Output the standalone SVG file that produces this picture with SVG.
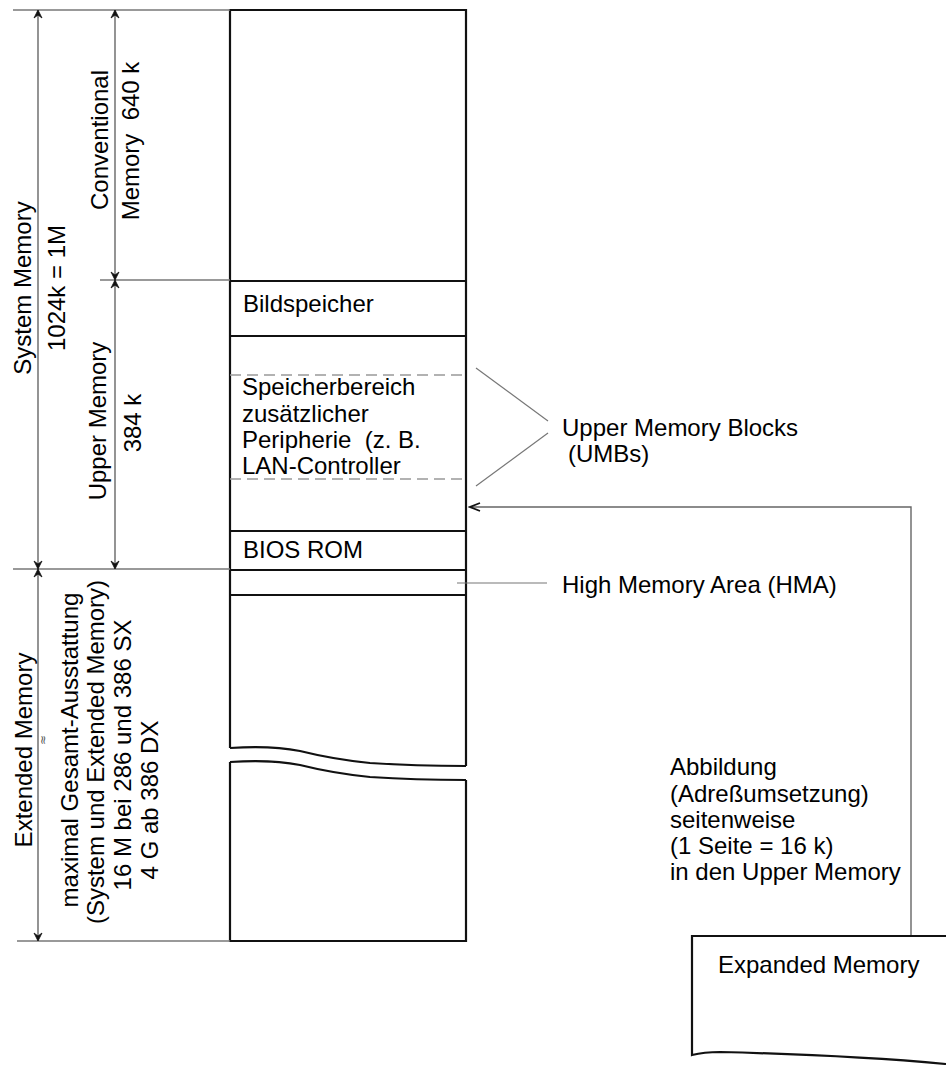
<svg xmlns="http://www.w3.org/2000/svg" width="946" height="1065" viewBox="0 0 946 1065">
  <style>
    .t { font-family: "Liberation Sans", Arial, sans-serif; font-size: 24px; fill: #000; }
    .box { fill: none; stroke: #111; stroke-width: 2.2; }
    .dim { fill: none; stroke: #666; stroke-width: 1.4; }
    .ext { fill: none; stroke: #777; stroke-width: 1.4; }
    .lead { fill: none; stroke: #777; stroke-width: 1.2; }
    .dash { fill: none; stroke: #999; stroke-width: 1.4; stroke-dasharray: 11 6; }
  </style>
  <defs>
    <marker id="ah" viewBox="-10 -6 12 12" refX="0" refY="0" markerWidth="12" markerHeight="12" markerUnits="userSpaceOnUse" orient="auto-start-reverse">
      <path d="M-8,-4 L0,0 L-8,4 L-5,0 Z" fill="#111" stroke="#111" stroke-width="0.8" stroke-linejoin="miter"/>
    </marker>
    <marker id="oh" viewBox="-12 -6 14 12" refX="0" refY="0" markerWidth="14" markerHeight="12" markerUnits="userSpaceOnUse" orient="auto">
      <path d="M-10,-4 L0,0 L-10,4" fill="none" stroke="#111" stroke-width="1.8"/>
    </marker>
  </defs>
  <rect width="946" height="1065" fill="#fff"/>

  <!-- memory column -->
  <g id="column">
    <path class="box" d="M230,748 V10 H466 V766"/>
    <path class="box" d="M230,762 V941 H466 V780"/>
    <path class="box" d="M230,748 C260,746 280,747 300,751 C320,756 340,760 370,763 C400,765 430,766 466,766"/>
    <path class="box" d="M230,762 C260,760 280,761 300,765 C320,770 340,774 370,777 C400,779 430,780 466,780"/>
  </g>

  <g id="conventional">
    <line class="box" x1="230" y1="281" x2="466" y2="281"/>
  </g>

  <g id="bildspeicher">
    <line class="box" x1="230" y1="336" x2="466" y2="336"/>
    <text class="t" x="243" y="312">Bildspeicher</text>
  </g>

  <g id="umb-area">
    <line class="dash" x1="230" y1="375" x2="466" y2="375"/>
    <line class="dash" x1="230" y1="479" x2="466" y2="479"/>
    <text class="t" x="242" y="395">Speicherbereich</text>
    <text class="t" x="242" y="422">zusätzlicher</text>
    <text class="t" x="242" y="448" xml:space="preserve">Peripherie  (z. B.</text>
    <text class="t" x="242" y="474">LAN-Controller</text>
  </g>

  <g id="bios-rom">
    <line class="box" x1="230" y1="531" x2="466" y2="531"/>
    <text class="t" x="243" y="558">BIOS ROM</text>
  </g>

  <g id="hma">
    <line class="box" x1="230" y1="570" x2="466" y2="570"/>
    <line class="box" x1="230" y1="595" x2="466" y2="595"/>
  </g>

  <g id="expanded-memory">
    <path class="box" d="M946,936 H692 V1055 C700,1053 710,1052 720,1052 C800,1054 880,1058 946,1064"/>
    <text class="t" x="718" y="973">Expanded Memory</text>
  </g>

  <!-- dimension lines and leaders -->
  <g id="connectors">
    <line class="ext" x1="13" y1="10" x2="230" y2="10"/>
    <line class="ext" x1="100" y1="280" x2="230" y2="280"/>
    <line class="ext" x1="13" y1="569" x2="230" y2="569"/>
    <line class="ext" x1="17" y1="941" x2="230" y2="941"/>

    <line class="dim" x1="38" y1="10" x2="38" y2="569" marker-start="url(#ah)" marker-end="url(#ah)"/>
    <line class="dim" x1="38" y1="569" x2="38" y2="941" marker-start="url(#ah)" marker-end="url(#ah)"/>
    <line class="dim" x1="115" y1="10" x2="115" y2="280" marker-start="url(#ah)" marker-end="url(#ah)"/>
    <line class="dim" x1="115" y1="280" x2="115" y2="569" marker-start="url(#ah)" marker-end="url(#ah)"/>

    <line class="lead" x1="548" y1="421" x2="476" y2="368"/>
    <line class="lead" x1="548" y1="433" x2="476" y2="486"/>
    <line class="lead" x1="457" y1="583" x2="547" y2="583"/>

    <path class="dim" d="M911,935 V507 H470" marker-end="url(#oh)"/>
  </g>

  <!-- left-hand labels -->
  <g id="labels">
    <text class="t" text-anchor="middle" transform="translate(31,288) rotate(-90)">System Memory</text>
    <text class="t" text-anchor="middle" transform="translate(65,288) rotate(-90)">1024k = 1M</text>
    <text class="t" text-anchor="middle" transform="translate(108,140) rotate(-90)">Conventional</text>
    <text class="t" text-anchor="middle" transform="translate(139,141) rotate(-90)" xml:space="preserve">Memory  640 k</text>
    <text class="t" text-anchor="middle" transform="translate(106,421) rotate(-90)">Upper Memory</text>
    <text class="t" text-anchor="middle" transform="translate(141,423) rotate(-90)">384 k</text>
    <text class="t" text-anchor="middle" transform="translate(32,750) rotate(-90)">Extended Memory</text>
    <text style="font-family: 'DejaVu Sans', sans-serif; font-size: 12px; fill: #555;" text-anchor="middle" transform="translate(47,740) rotate(-90)">≈</text>
    <text class="t" text-anchor="middle" transform="translate(78,750) rotate(-90)">maximal Gesamt-Ausstattung</text>
    <text class="t" text-anchor="middle" transform="translate(104,752) rotate(-90)">(System und Extended Memory)</text>
    <text class="t" text-anchor="middle" transform="translate(131,755) rotate(-90)">16 M bei 286 und 386 SX</text>
    <text class="t" text-anchor="middle" transform="translate(158,800) rotate(-90)">4 G ab 386 DX</text>

    <text class="t" x="562" y="436">Upper Memory Blocks</text>
    <text class="t" x="568" y="462">(UMBs)</text>
    <text class="t" x="562" y="593">High Memory Area (HMA)</text>

    <text class="t" x="670" y="775">Abbildung</text>
    <text class="t" x="670" y="802">(Adreßumsetzung)</text>
    <text class="t" x="670" y="828">seitenweise</text>
    <text class="t" x="670" y="854">(1 Seite = 16 k)</text>
    <text class="t" x="670" y="880">in den Upper Memory</text>
  </g>
</svg>
